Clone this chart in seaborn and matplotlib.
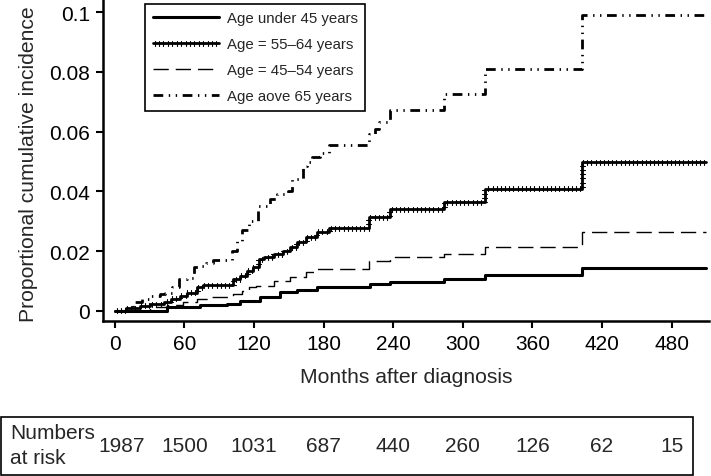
import matplotlib
matplotlib.use('Agg')
import matplotlib.pyplot as plt
import matplotlib.patheffects as pe
from matplotlib.transforms import blended_transform_factory
from matplotlib.patches import Rectangle
import seaborn as sns

# step curves (months after diagnosis, cumulative incidence)
under45_months = [0, 45, 73, 97, 108, 125, 142, 157, 174, 220, 237, 284, 319, 403, 510]
under45_values = [0, 0.0011, 0.0019, 0.0022, 0.0034, 0.0047, 0.0062, 0.0070, 0.0078,
                  0.0088, 0.0097, 0.0107, 0.0120, 0.0143, 0.0143]

age5564_months = [0, 10, 22, 30, 42, 48, 56, 62, 71, 76, 102, 108, 114, 119, 124, 129,
                  137, 145, 151, 157, 165, 174, 185, 219, 237, 284, 319, 403, 510]
age5564_values = [0, 0.0008, 0.0017, 0.0022, 0.0030, 0.0040, 0.0050, 0.0060, 0.0078,
                  0.0086, 0.0106, 0.0117, 0.0134, 0.0145, 0.0173, 0.0180, 0.0190, 0.0200,
                  0.0213, 0.0230, 0.0247, 0.0264, 0.0277, 0.0313, 0.0340, 0.0363, 0.0408,
                  0.0497, 0.0497]

age4554_months = [0, 30, 45, 59, 71, 82, 102, 110, 116, 122, 137, 151, 165, 174, 219,
                  237, 284, 319, 403, 510]
age4554_values = [0, 0.0012, 0.0020, 0.0029, 0.0040, 0.0045, 0.0056, 0.0067, 0.0078,
                  0.0084, 0.0100, 0.0112, 0.0129, 0.0141, 0.0168, 0.0179, 0.0190, 0.0214,
                  0.0263, 0.0263]

over65_months = [0, 16, 23, 30, 39, 43, 49, 55, 62, 68, 73, 79, 85, 101, 105, 110, 116,
                 123, 134, 140, 149, 153, 162, 166, 170, 177, 185, 219, 224, 228, 237,
                 284, 319, 403, 510]
over65_values = [0, 0.0030, 0.0040, 0.0050, 0.0056, 0.0060, 0.0080, 0.0106, 0.0110,
                 0.0146, 0.0150, 0.0160, 0.0171, 0.0200, 0.0235, 0.0270, 0.0300, 0.0350,
                 0.0374, 0.0390, 0.0400, 0.0440, 0.0485, 0.0497, 0.0514, 0.0530, 0.0555,
                 0.0592, 0.0610, 0.0631, 0.0672, 0.0726, 0.0810, 0.0990, 0.0990]

labels = ['Age under 45 years', 'Age = 55\u201364 years', 'Age = 45\u201354 years',
          'Age aove 65 years']

x_ticks = [0, 60, 120, 180, 240, 300, 360, 420, 480]
y_ticks = [0, 0.02, 0.04, 0.06, 0.08, 0.1]
y_ticklabels = ['0', '0.02', '0.04', '0.06', '0.08', '0.1']

risk_months = [0, 60, 120, 180, 240, 300, 360, 420, 480]
risk_numbers = [1987, 1500, 1031, 687, 440, 260, 126, 62, 15]

sns.set_style('ticks')
plt.rcParams['font.family'] = ['Liberation Sans', 'DejaVu Sans']

fig = plt.figure(figsize=(7.11, 4.77), dpi=100)
ax = fig.add_axes([0.1449, 0.3243, 0.8523, 0.6757])

sns.lineplot(x=under45_months, y=under45_values, ax=ax, color='k', lw=2.2,
             drawstyle='steps-post', label=labels[0], estimator=None)
sns.lineplot(x=age5564_months, y=age5564_values, ax=ax, color='k', lw=2.0,
             drawstyle='steps-post', label=labels[1], estimator=None,
             path_effects=[pe.Normal(),
                           pe.TickedStroke(spacing=3, angle=90, length=0.6, linewidth=0.8),
                           pe.TickedStroke(spacing=3, angle=-90, length=0.6, linewidth=0.8)])
sns.lineplot(x=age4554_months, y=age4554_values, ax=ax, color='k', lw=1.0,
             drawstyle='steps-post', label=labels[2], estimator=None,
             linestyle=(0, (11, 5)))
sns.lineplot(x=over65_months, y=over65_values, ax=ax, color='k', lw=2.0,
             drawstyle='steps-post', label=labels[3], estimator=None,
             linestyle=(0, (3.5, 2, 0.5, 2, 0.5, 2)))

ax.set_xlim(-10.2, 512.3)
ax.set_ylim(-0.00355, 0.10446)
ax.set_xticks(x_ticks)
ax.set_yticks(y_ticks)
ax.set_yticklabels(y_ticklabels)
ax.tick_params(direction='out', length=5, width=1.5, labelsize=15, pad=4.4, colors='k')
sns.despine(ax=ax)
for s in ['left', 'bottom']:
    ax.spines[s].set_linewidth(1.8)
    ax.spines[s].set_color('k')

ax.set_xlabel('Months after diagnosis', fontsize=15.2, labelpad=9.5)
ax.set_ylabel('Proportional cumulative incidence', fontsize=15.2)
ax.yaxis.set_label_coords(-0.107, 0.49)

leg = ax.legend(loc='upper left', bbox_to_anchor=(0.0693, 0.9845), borderaxespad=0,
                fontsize=10.8, handlelength=4.4, handletextpad=0.55, labelspacing=0.8,
                borderpad=0.5, fancybox=False, framealpha=1, edgecolor='k')
leg.get_frame().set_linewidth(1.2)

# numbers at risk table
fig.add_artist(Rectangle((0.001, 0.0027), 0.9733, 0.1203, transform=fig.transFigure,
                         fill=False, edgecolor='k', lw=1.2))
fig.text(0.0141, 0.064, 'Numbers\nat risk', ha='left', va='center', fontsize=15,
         linespacing=1.4)
trans = blended_transform_factory(ax.transData, fig.transFigure)
for i, (m, n) in enumerate(zip(risk_months, risk_numbers)):
    xpos = m + 6 if i == 0 else m
    ax.text(xpos, 0.0629, str(n), transform=trans, ha='center', va='center',
            fontsize=15, clip_on=False)

fig.savefig('out.png', dpi=100)
plt.close(fig)
